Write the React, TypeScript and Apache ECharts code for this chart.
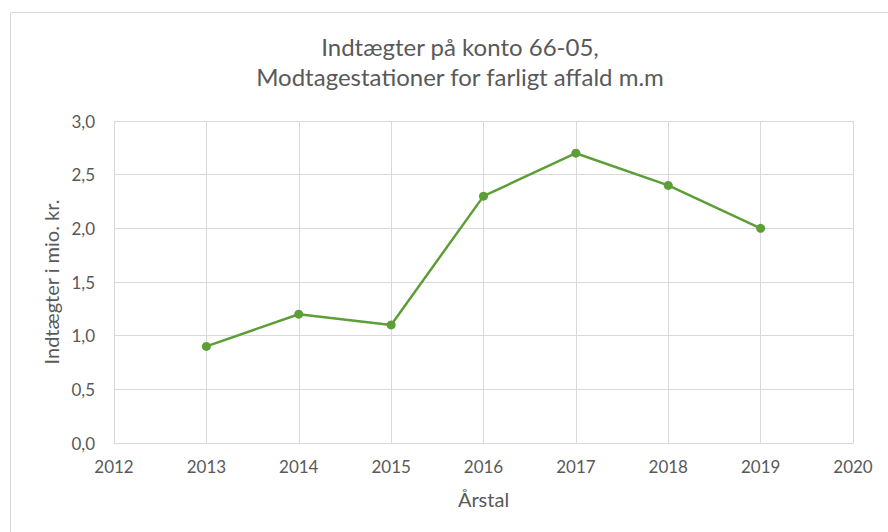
import React, { useEffect, useRef } from "react";
import * as echarts from "echarts";

const years = [2013, 2014, 2015, 2016, 2017, 2018, 2019];
const values = [0.9, 1.2, 1.1, 2.3, 2.7, 2.4, 2.0];
const titleLines = ["Indtægter på konto 66-05,", "Modtagestationer for farligt affald m.m"];
const yAxisName = "Indtægter i mio. kr.";
const xAxisName = "Årstal";

const FONT = "Lato, 'Open Sans', sans-serif";
const TEXT = "#595959";
const GRID = "#d9d9d9";
const GREEN = "#5E9E37";

export default function App() {
  const ref = useRef<HTMLDivElement>(null);
  useEffect(() => {
    if (!ref.current) return;
    const chart = echarts.init(ref.current, undefined, { renderer: "svg" });
    chart.setOption({
      animation: false,
      backgroundColor: "#ffffff",
      textStyle: { fontFamily: FONT },
      title: {
        text: titleLines.join("\n"),
        left: 455,
        textAlign: "center",
        top: 26,
        textStyle: {
          fontFamily: FONT,
          fontSize: 24,
          fontWeight: "normal",
          color: TEXT,
          lineHeight: 30,
        },
      },
      graphic: [
        {
          type: "rect",
          shape: { x: 10.5, y: 12.5, width: 900, height: 600 },
          style: { fill: "none", stroke: GRID, lineWidth: 1 },
          silent: true,
        },
      ],
      grid: { left: 114, right: 35, top: 121, bottom: 89 },
      xAxis: {
        type: "value",
        min: 2012,
        max: 2020,
        interval: 1,
        name: xAxisName,
        nameLocation: "middle",
        nameGap: 46,
        nameTextStyle: { color: TEXT, fontSize: 20, fontFamily: FONT },
        axisLine: { show: true, lineStyle: { color: GRID } },
        axisTick: { show: false },
        axisLabel: {
          color: TEXT,
          fontSize: 17,
          margin: 15,
          fontFamily: FONT,
          formatter: (v: number) => String(v),
        },
        splitLine: { show: true, lineStyle: { color: GRID, width: 1 } },
      },
      yAxis: {
        type: "value",
        min: 0,
        max: 3,
        interval: 0.5,
        name: yAxisName,
        nameLocation: "middle",
        nameGap: 52,
        nameRotate: 90,
        nameTextStyle: { color: TEXT, fontSize: 20, fontFamily: FONT },
        axisLine: { show: false },
        axisTick: { show: false },
        axisLabel: {
          color: TEXT,
          fontSize: 17,
          margin: 19,
          fontFamily: FONT,
          formatter: (v: number) => v.toFixed(1).replace(".", ","),
        },
        splitLine: { show: true, lineStyle: { color: GRID, width: 1 } },
      },
      series: [
        {
          type: "line",
          data: years.map((y, i) => [y, values[i]]),
          symbol: "circle",
          symbolSize: 9,
          lineStyle: { color: GREEN, width: 2.5 },
          itemStyle: { color: GREEN },
        },
      ],
    });
    return () => chart.dispose();
  }, []);
  return (
    <div
      ref={ref}
      style={{ position: "absolute", left: 0, top: 0, width: 888, height: 532 }}
    />
  );
}
